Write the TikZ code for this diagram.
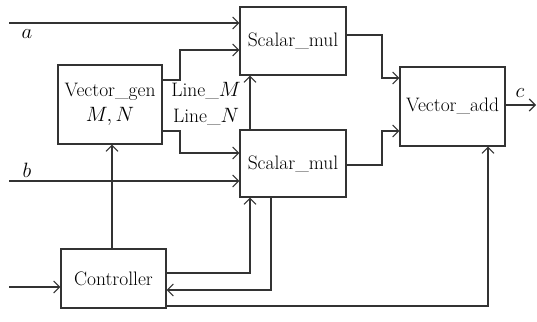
\documentclass[tikz,border=0pt]{standalone}
\usetikzlibrary{arrows.meta}
\begin{document}
\begin{tikzpicture}[x=1pt,y=-1pt,
  line width=1.1pt, draw={black!80},
  >={Straight Barb[length=6pt,width=12pt,line width=1.1pt]},
  blk/.style={draw, rectangle, inner sep=0pt, font=\fontsize{19.5}{23}\selectfont, align=center},
  lbl/.style={font=\fontsize{19.5}{23}\selectfont, inner sep=0pt}]
\useasboundingbox (0,0) rectangle (537,321);
\node[blk, minimum width=106pt, minimum height=68pt] (sm1) at (293,41) {Scalar\_mul};
\node[blk, minimum width=106pt, minimum height=67pt] (sm2) at (293,163.5) {Scalar\_mul};
\node[blk, minimum width=105pt, minimum height=79pt] (va) at (452.5,106.5) {Vector\_add};
\node[blk, minimum width=104pt, minimum height=79pt] (vg) at (110,104.5) {Vector\_gen\\[2pt] $M, N$};
\node[blk, minimum width=105pt, minimum height=59pt] (ctl) at (113.5,278.5) {Controller};
% free ends and bends
\coordinate (ain) at (9,23);
\coordinate (bin) at (9,181);
\coordinate (cin) at (9,287);
\coordinate (cout) at (536,105);
\coordinate (mA) at (vg.east |- 0,80);
\coordinate (mB) at (180,80);
\coordinate (mC) at (180,50);
\coordinate (nA) at (vg.east |- 0,131);
\coordinate (nB) at (180,131);
\coordinate (nC) at (180,153);
\coordinate (vx) at (250,0);
\coordinate (fx) at (271,0);
\coordinate (ox) at (382,0);
\coordinate (rx) at (488,0);
% inputs
\draw[->] (ain) -- (ain -| sm1.west);
\draw[->] (bin) -- (bin -| sm2.west);
\draw[->] (cin) -- (cin -| ctl.west);
% Line M / Line N
\draw[->] (mA) -- (mB) -- (mC) -- (mC -| sm1.west);
\draw[->] (nA) -- (nB) -- (nC) -- (nC -| sm2.west);
% between scalar muls
\draw[->] (sm2.north -| vx) -- (sm1.south -| vx);
% controller
\draw[->] (ctl.north -| 112,0) -- (vg.south -| 112,0);
\draw[->] (ctl.east |- 0,273) -- (vx |- 0,273) -- (sm2.south -| vx);
\draw[->] (sm2.south -| fx) -- (fx |- 0,290) -- (ctl.east |- 0,290);
\draw[->] (ctl.east |- 0,306) -- (rx |- 0,306) -- (va.south -| rx);
% to vector add
\draw[->] (sm1.east |- 0,35) -- (ox |- 0,35) -- (ox |- 0,78) -- (va.west |- 0,78);
\draw[->] (sm2.east |- 0,165) -- (ox |- 0,165) -- (ox |- 0,131) -- (va.west |- 0,131);
\draw[->] (va.east |- cout) -- (cout);
% labels
\node[lbl] (la) at (27,34) {$a$};
\node[lbl] (lb) at (27,170) {$b$};
\node[lbl] (lc) at (520,93) {$c$};
\node[lbl] (lm) at (206,91) {Line\_$M$};
\node[lbl] (ln) at (206,117) {Line\_$N$};
\end{tikzpicture}
\end{document}
